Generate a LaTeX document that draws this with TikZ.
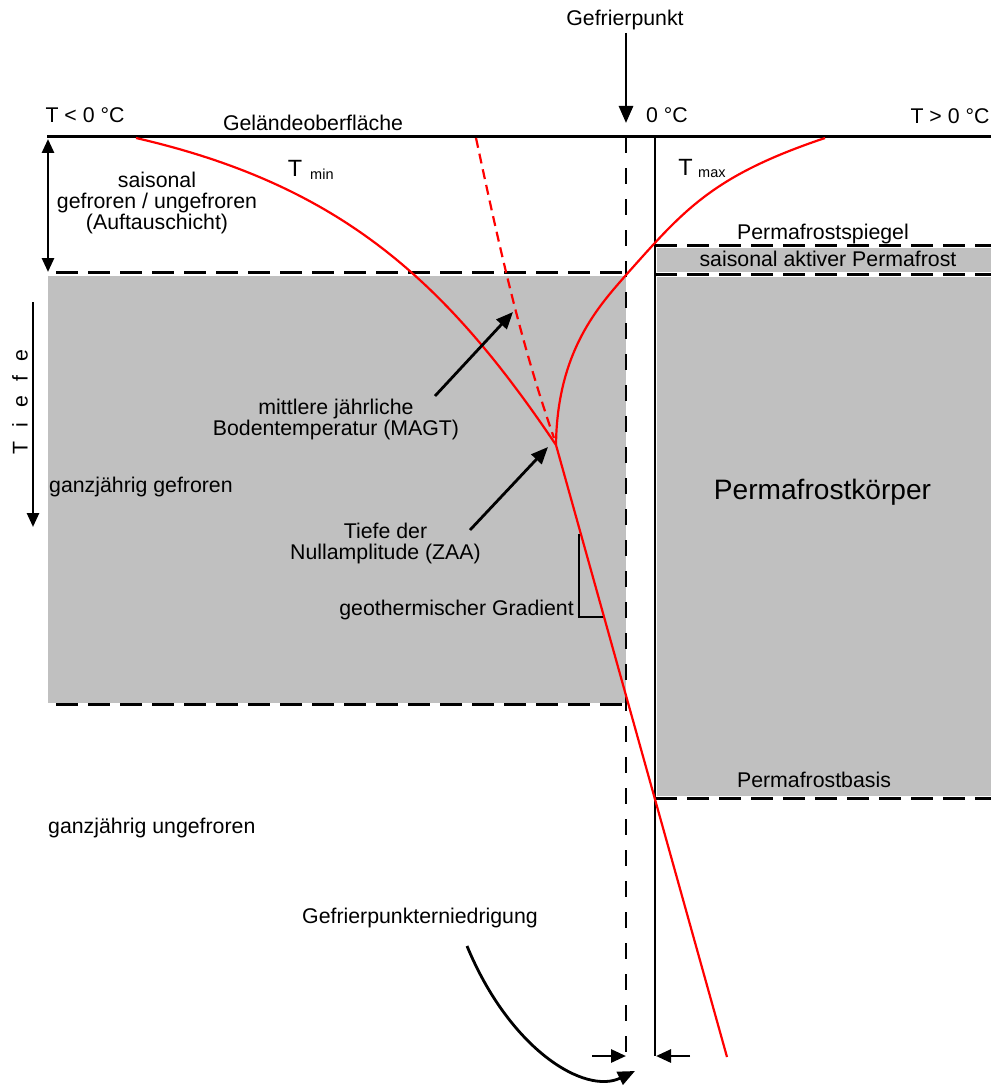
\documentclass[tikz,border=0pt]{standalone}
\usepackage{fontspec}
\setmainfont{Liberation Sans}
\usetikzlibrary{arrows.meta}
\definecolor{soilgray}{HTML}{C0C0C0}
\newcommand\lblfont{\fontsize{21.3}{21}\selectfont}
\newcommand\bigTfont{\fontsize{23.5}{24}\selectfont}
\newcommand\subfont{\fontsize{14.5}{15}\selectfont}
\newcommand\bodyfont{\fontsize{28.1}{30}\selectfont}
\begin{document}
\begin{tikzpicture}[x=1pt,y=-1pt,
  lbl/.style={font=\lblfont, inner sep=0pt, anchor=base},
  dashH/.style={line width=3pt, dash pattern=on 22pt off 10pt},
  dashV/.style={line width=2.6pt, dash pattern=on 16pt off 15pt},
  curve/.style={red, line width=2.2pt},
  pointer/.style={line width=2.8pt, -{Triangle[length=17pt,width=14pt]}},
  smallpointer/.style={line width=2.8pt, -{Triangle[length=15pt,width=13pt]}}]
\path[use as bounding box] (0,0) rectangle (991,1086);

% frozen ground bodies
\fill[soilgray] (48,276) rectangle (626,703);
\fill[soilgray] (657,248) rectangle (991,272);
\fill[soilgray] (657,277) rectangle (991,796);

% horizon boundaries
\draw[dashH] (56,272) -- (626,272);
\draw[dashH] (56,704) -- (626,704);
\draw[dashH] (655,245) -- (991,245);
\draw[dashH] (655,274) -- (991,274);
\draw[dashH] (655,798) -- (991,798);

% freezing point lines and ground surface
\draw[dashV] (626,137) -- (626,1056);
\draw[line width=2.2pt] (655,137) -- (655,1056);
\draw[line width=3pt] (47,137) -- (991,137);

% temperature envelopes
\coordinate (zaa) at (556,445);
\coordinate (tminTop) at (136,138);
\coordinate (tmaxTop) at (825,138);
\coordinate (tmaxMid) at (626,275);
\coordinate (gradEnd) at (727,1057);
\coordinate (magtTop) at (476,138);
\coordinate (magtEnd) at (554,438);
\draw[curve] (tminTop) .. controls (340,185) and (445,280) .. (zaa);
\draw[curve] (tmaxTop) .. controls (712,176) and (684,210) .. (tmaxMid)
                        .. controls (600,305) and (557,350) .. (zaa);
\draw[curve] (zaa) -- (gradEnd);
\draw[curve, dash pattern=on 10pt off 6pt] (magtTop) .. controls (500,250) and (520,340) .. (magtEnd);

% geothermal gradient triangle
\coordinate (gTop) at (579,534);
\coordinate (gCorner) at (579,617);
\coordinate (gFoot) at (603,617);
\draw[line width=2pt] (gTop) -- (gCorner) -- (gFoot);

% labels
\node[lbl] (gp) at (625,26) {Gefrierpunkt};
\node[lbl] (tneg) at (85,123) {T < 0 °C};
\node[lbl] (zero) at (667,123) {0 °C};
\node[lbl] (tpos) at (950,124) {T > 0 °C};
\node[lbl] (surf) at (313,131) {Geländeoberfläche};
\node[lbl, anchor=center, align=center] (active) at (157,203)
  {saisonal\\gefroren / ungefroren\\(Auftauschicht)};
\node[font=\bigTfont, inner sep=0pt, anchor=base] (tminT) at (295,177) {T};
\node[font=\subfont, inner sep=0pt, anchor=base west] (tminS) at (310,179) {min};
\node[font=\bigTfont, inner sep=0pt, anchor=base] (tmaxT) at (685.5,176) {T};
\node[font=\subfont, inner sep=0pt, anchor=base west] (tmaxS) at (698,178) {max};
\node[lbl] (spiegel) at (823,239) {Permafrostspiegel};
\node[lbl] (saisonal) at (828,266) {saisonal aktiver Permafrost};
\node[font=\bodyfont, inner sep=0pt, anchor=base] (body) at (822.5,499) {Permafrostkörper};
\node[lbl] (basis) at (814,787) {Permafrostbasis};
\node[lbl, anchor=base west] (frozen) at (49,492) {ganzjährig gefroren};
\node[lbl, anchor=base west] (unfrozen) at (48,833) {ganzjährig ungefroren};
\node[lbl, anchor=center, align=center] (magt) at (336,419)
  {mittlere jährliche\\Bodentemperatur (MAGT)};
\node[lbl, anchor=center, align=center] (zaaLbl) at (385.5,543)
  {Tiefe der\\Nullamplitude (ZAA)};
\node[lbl, anchor=base east] (grad) at (574,615) {geothermischer Gradient};
\node[lbl] (fpd) at (420,923) {Gefrierpunkterniedrigung};
\node[font=\lblfont, inner sep=0pt, rotate=90] (depth) at (20,402)
  {\makebox[23pt]{T}\makebox[23pt]{i}\makebox[23pt]{e}\makebox[23pt]{f}\makebox[23pt]{e}};

% arrows
\coordinate (gpTail) at (626,33);
\coordinate (gpTip) at (626,123);
\draw[pointer, -{Triangle[length=17pt,width=14pt]}] (gpTail) -- (gpTip);
\coordinate (actTop) at (48,139);
\coordinate (actBot) at (48,272);
\draw[line width=2.8pt, {Triangle[length=14pt,width=12pt]}-{Triangle[length=14pt,width=12pt]}] (actTop) -- (actBot);
\coordinate (depthTail) at (33,302);
\coordinate (depthTip) at (33,527);
\draw[line width=2.6pt, -{Triangle[length=14pt,width=12pt]}] (depthTail) -- (depthTip);
\coordinate (magtTail) at (435,396);
\coordinate (magtTip) at (513,312);
\draw[pointer] (magtTail) -- (magtTip);
\coordinate (zaaTail) at (470,530);
\coordinate (zaaTip) at (548,447);
\draw[pointer] (zaaTail) -- (zaaTip);
\coordinate (fpdTail) at (467,946);
\coordinate (fpdTip) at (635,1071);
\draw[pointer] (fpdTail) .. controls (510,1050) and (585,1095) .. (fpdTip);
\coordinate (leftTail) at (592,1056);
\coordinate (leftTip) at (626,1056);
\draw[smallpointer] (leftTail) -- (leftTip);
\coordinate (rightTail) at (690,1056);
\coordinate (rightTip) at (656,1056);
\draw[smallpointer] (rightTail) -- (rightTip);
\end{tikzpicture}
\end{document}
